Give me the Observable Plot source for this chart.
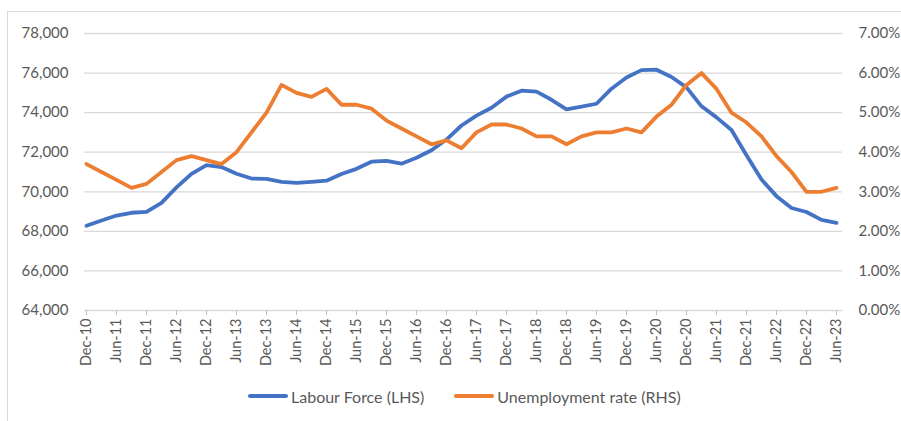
<!DOCTYPE html>
<html>
<head>
<meta charset="utf-8">
<script src="https://cdn.jsdelivr.net/npm/d3@7"></script>
<script src="https://cdn.jsdelivr.net/npm/@observablehq/plot@0.6"></script>
<style>
  html, body { margin: 0; padding: 0; background: #fff; }
  #wrap { position: relative; width: 901px; height: 421px; overflow: hidden; font-family: Lato, "Open Sans", sans-serif; }
  #frame { position: absolute; left: 7px; top: 11px; width: 1000px; height: 1000px; border-left: 1px solid #d9d9d9; border-top: 1px solid #d9d9d9; }
  #chart { position: absolute; left: 0; top: 0; }
  #legend { position: absolute; top: 386px; left: 248px; display: flex; align-items: center; font-size: 16px; color: #595959; white-space: nowrap; }
  .sw { display: inline-block; width: 40px; height: 4px; border-radius: 2px; margin-right: 3px; }
  .item { display: flex; align-items: center; height: 20px; }
</style>
</head>
<body>
<div id="wrap">
  <div id="frame"></div>
  <div id="chart"></div>
  <div id="legend">
    <span class="item"><span class="sw" style="background:#4472C4"></span><span>Labour Force (LHS)</span></span>
    <span class="item" style="margin-left:30px"><span class="sw" style="background:#ED7D31"></span><span>Unemployment rate (RHS)</span></span>
  </div>
</div>
<script>
const quarters = [
  "Dec-10","Mar-11","Jun-11","Sep-11","Dec-11","Mar-12","Jun-12","Sep-12","Dec-12",
  "Mar-13","Jun-13","Sep-13","Dec-13","Mar-14","Jun-14","Sep-14","Dec-14",
  "Mar-15","Jun-15","Sep-15","Dec-15","Mar-16","Jun-16","Sep-16","Dec-16",
  "Mar-17","Jun-17","Sep-17","Dec-17","Mar-18","Jun-18","Sep-18","Dec-18",
  "Mar-19","Jun-19","Sep-19","Dec-19","Mar-20","Jun-20","Sep-20","Dec-20",
  "Mar-21","Jun-21","Sep-21","Dec-21","Mar-22","Jun-22","Sep-22","Dec-22",
  "Mar-23","Jun-23"
];
const labourForce = [
  68280, 68550, 68800, 68940, 68980, 69440, 70220, 70910, 71350,
  71250, 70910, 70670, 70650, 70500, 70450, 70500, 70560,
  70900, 71160, 71520, 71560, 71420, 71720, 72100, 72640,
  73350, 73850, 74250, 74810, 75110, 75060, 74650, 74170,
  74300, 74450, 75210, 75780, 76150, 76170, 75800, 75280,
  74320, 73760, 73120, 71850, 70620, 69780, 69180, 68980,
  68580, 68430
];
const unemploymentRate = [
  3.7, 3.5, 3.3, 3.1, 3.2, 3.5, 3.8, 3.9, 3.8,
  3.7, 4.0, 4.5, 5.0, 5.7, 5.5, 5.4, 5.6,
  5.2, 5.2, 5.1, 4.8, 4.6, 4.4, 4.2, 4.3,
  4.1, 4.5, 4.7, 4.7, 4.6, 4.4, 4.4, 4.2,
  4.4, 4.5, 4.5, 4.6, 4.5, 4.9, 5.2, 5.7,
  6.0, 5.6, 5.0, 4.75, 4.4, 3.9, 3.5, 3.0,
  3.0, 3.1
];
const xTickLabels = quarters.filter((q, i) => i % 2 === 0);
const leftTicks = [64000, 66000, 68000, 70000, 72000, 74000, 76000, 78000];
const rightTickLabels = ["0.00%","1.00%","2.00%","3.00%","4.00%","5.00%","6.00%","7.00%"];

// map RHS (%) onto LHS scale: 0% -> 64,000, 7% -> 78,000
const lfMin = 64000, lfMax = 78000, rateMax = 7;
const rateToLF = r => lfMin + r * (lfMax - lfMin) / rateMax;

const data = quarters.map((q, i) => ({q, lf: labourForce[i], rate: unemploymentRate[i]}));

const textColor = "#595959";
const gridColor = "#d9d9d9";

const chart = Plot.plot({
  width: 901,
  height: 375,
  marginLeft: 84,
  marginRight: 64,
  marginTop: 33,
  marginBottom: 65,
  style: { fontFamily: "Lato, 'Open Sans', sans-serif", fontSize: "15px", color: textColor, background: "transparent" },
  x: { type: "point", domain: quarters, padding: 0 },
  y: { domain: [lfMin, lfMax] },
  marks: [
    Plot.ruleY(leftTicks, { stroke: gridColor, strokeWidth: 1.3, insetRight: -5 }),
    Plot.axisY(leftTicks, { anchor: "left", tickSize: 0, tickPadding: 16, tickFormat: d3.format(","), label: null, fill: textColor, fontSize: 15 }),
    Plot.axisY(leftTicks, { anchor: "right", tickSize: 0, tickPadding: 21, tickFormat: (d) => rightTickLabels[leftTicks.indexOf(d)], label: null, fill: textColor, fontSize: 15 }),
    Plot.axisX(xTickLabels, { anchor: "bottom", tickRotate: -90, tickSize: 5, tickPadding: 3, stroke: "#bfbfbf", label: null, fill: textColor, fontSize: 14.5 }),
    Plot.line(data, { x: "q", y: "lf", stroke: "#4472C4", strokeWidth: 3.8, strokeLinejoin: "round", strokeLinecap: "round" }),
    Plot.line(data, { x: "q", y: d => rateToLF(d.rate), stroke: "#ED7D31", strokeWidth: 3.8, strokeLinejoin: "round", strokeLinecap: "round" })
  ]
});
document.getElementById("chart").appendChild(chart);
</script>
</body>
</html>
